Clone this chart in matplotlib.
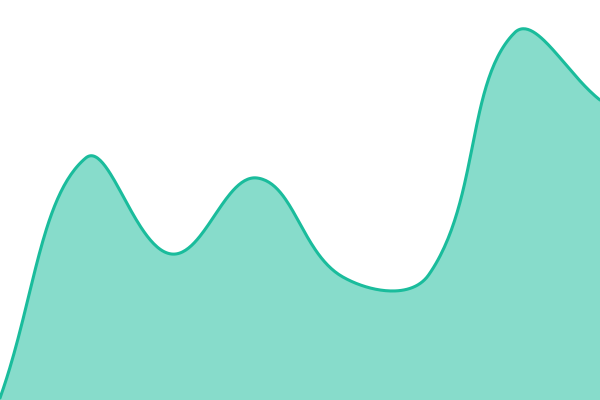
import numpy as np
import matplotlib
matplotlib.use("Agg")
import matplotlib.pyplot as plt

# values (x index, height in px units out of 400)
x_idx = [0, 1, 2, 3, 4, 5, 6, 7]
values = [2, 242, 146, 222, 123, 125, 367, 300]

LINE = "#1abc9c"
W, H = 600, 400
TENSION = 0.4


def spline(xs, ys, tension=TENSION, n=60):
    # chart.js-style spline: control points along prev->next, scaled by chord lengths
    xs = np.asarray(xs, float)
    ys = np.asarray(ys, float)
    kx = W / (xs[-1] - xs[0])
    P = np.column_stack([xs, ys])
    S = np.column_stack([xs * kx, ys])
    cin, cout = [], []
    for i in range(len(P)):
        ip = max(i - 1, 0)
        inx = min(i + 1, len(P) - 1)
        d01 = np.linalg.norm(S[i] - S[ip])
        d12 = np.linalg.norm(S[inx] - S[i])
        tot = d01 + d12
        s01 = d01 / tot if tot else 0
        s12 = d12 / tot if tot else 0
        diff = P[inx] - P[ip]
        a = P[i] - tension * s01 * diff
        b = P[i] + tension * s12 * diff
        lo, hi = [xs[0], 0], [xs[-1], H]
        cin.append(np.clip(a, lo, hi))
        cout.append(np.clip(b, lo, hi))
    t = np.linspace(0, 1, n)[:, None]
    out = []
    for i in range(len(P) - 1):
        p1, c1, c2, p2 = P[i], cout[i], cin[i + 1], P[i + 1]
        out.append((1 - t)**3 * p1 + 3 * (1 - t)**2 * t * c1
                   + 3 * (1 - t) * t**2 * c2 + t**3 * p2)
    pts = np.vstack(out)
    return pts[:, 0], pts[:, 1]


def main():
    sx, sy = spline(x_idx, values)

    fig = plt.figure(figsize=(6, 4), dpi=100)
    ax = fig.add_axes([0, 0, 1, 1])
    ax.fill_between(sx, sy, 0, color=LINE, alpha=0.52, linewidth=0)
    ax.plot(sx, sy, color=LINE, lw=2.2, solid_capstyle="round")
    ax.set_xlim(x_idx[0], x_idx[-1])
    ax.set_ylim(0, H)
    ax.axis("off")
    fig.savefig("out.png", dpi=100)


if __name__ == "__main__":
    main()
